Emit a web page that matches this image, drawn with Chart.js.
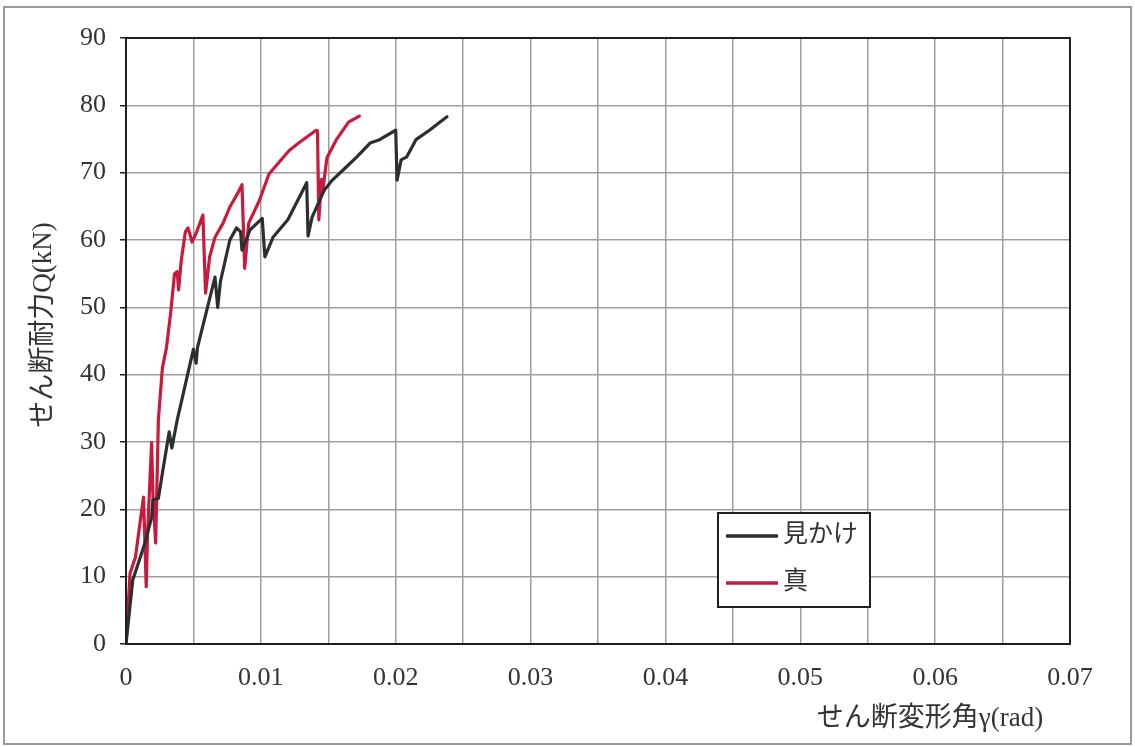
<!DOCTYPE html>
<html>
<head>
<meta charset="utf-8">
<script src="https://cdn.jsdelivr.net/npm/chart.js@4.4.1/dist/chart.umd.min.js"></script>
<style>
  html, body { margin: 0; padding: 0; background: #ffffff; }
  #wrap { position: relative; width: 1135px; height: 747px; }
</style>
</head>
<body>
<div id="wrap"><canvas id="c" width="1135" height="747"></canvas></div>
<script>
// 見かけ (apparent) shear angle vs. shear strength
const apparentGamma = [0, 0.0005, 0.0010, 0.0014, 0.0019, 0.0020, 0.0024, 0.0027, 0.0032, 0.0034,
  0.0038, 0.0050, 0.0052, 0.0053, 0.0066, 0.0068, 0.0070, 0.0077, 0.0082, 0.0085,
  0.0086, 0.0092, 0.0101, 0.0103, 0.0109, 0.0120, 0.0134, 0.0135, 0.0138, 0.0147,
  0.0153, 0.0161, 0.0171, 0.0181, 0.0188, 0.0200, 0.0201, 0.0204, 0.0208, 0.0215,
  0.0225, 0.0238];
const apparentQ = [0, 9.5, 12.5, 15.0, 18.8, 21.4, 21.6, 25.4, 31.5, 29.1,
  33.3, 43.8, 41.7, 44.0, 54.5, 50.0, 53.8, 60.0, 61.8, 61.2,
  58.5, 61.5, 63.2, 57.5, 60.4, 63.0, 68.5, 60.6, 63.4, 67.4,
  68.9, 70.4, 72.3, 74.4, 74.9, 76.3, 68.9, 71.9, 72.3, 74.9,
  76.3, 78.3];

// 真 (true) shear angle vs. shear strength
const trueGamma = [0, 0.0003, 0.0007, 0.0010, 0.0013, 0.0015, 0.0016, 0.0019, 0.0020, 0.0022,
  0.0024, 0.0027, 0.0030, 0.0033, 0.0036, 0.0038, 0.0039, 0.0041, 0.0044, 0.0046,
  0.0049, 0.0052, 0.0057, 0.0059, 0.0062, 0.0066, 0.0072, 0.0077, 0.0083, 0.0086,
  0.0088, 0.0091, 0.0099, 0.0106, 0.0121, 0.0128, 0.0141, 0.0142, 0.0143, 0.0145,
  0.0146, 0.0149, 0.0156, 0.0165, 0.0173];
const trueQ = [0, 10.5, 12.9, 17.4, 21.8, 8.5, 16.5, 29.9, 21.8, 15.0,
  33.3, 41.0, 44.0, 49.0, 55.0, 55.3, 52.6, 57.0, 61.2, 61.8,
  59.7, 61.0, 63.7, 52.1, 57.5, 60.4, 62.5, 64.9, 67.0, 68.2,
  55.8, 62.5, 65.9, 69.8, 73.3, 74.4, 76.3, 76.2, 63.0, 69.0,
  67.5, 72.2, 74.9, 77.5, 78.4];

const seriesLabels = ['見かけ', '真'];
const seriesColors = ['#2b2f30', '#c81a3c'];

const xMin = 0, xMax = 0.07, xStep = 0.005;
const yMin = 0, yMax = 90, yStep = 10;
const xTitle = 'せん断変形角γ(rad)';
const yTitle = 'せん断耐力Q(kN)';

const toPoints = (xs, ys) => xs.map((x, i) => ({ x: x, y: ys[i] }));

const FONT_FAMILY = '"Liberation Serif", "Noto Sans CJK JP", serif';

// frame, plot border, axis titles and boxed legend
const decorations = {
  id: 'decorations',
  afterDraw(chart) {
    const ctx = chart.ctx;
    const a = chart.chartArea;
    ctx.save();

    // outer frame of the figure
    ctx.strokeStyle = '#9a9a9a';
    ctx.lineWidth = 2;
    ctx.strokeRect(4, 7, 1127, 737);

    // plot border
    ctx.strokeStyle = '#1e1e1e';
    ctx.lineWidth = 2;
    ctx.strokeRect(a.left, a.top, a.right - a.left, a.bottom - a.top);

    // axis titles
    ctx.fillStyle = '#333333';
    ctx.font = '27px ' + FONT_FAMILY;
    ctx.textAlign = 'center';
    ctx.textBaseline = 'middle';
    ctx.fillText(xTitle, 930, 719);

    ctx.save();
    ctx.translate(44, 325);
    ctx.rotate(-Math.PI / 2);
    ctx.fillText(yTitle, 0, 0);
    ctx.restore();

    // legend box
    const lx = 718, ly = 513, lw = 152, lh = 94;
    ctx.fillStyle = '#ffffff';
    ctx.fillRect(lx, ly, lw, lh);
    ctx.strokeStyle = '#1e1e1e';
    ctx.lineWidth = 2;
    ctx.strokeRect(lx, ly, lw, lh);

    const rows = [536, 583];
    chart.data.datasets.forEach((ds, i) => {
      ctx.strokeStyle = ds.borderColor;
      ctx.lineWidth = 3.5;
      ctx.beginPath();
      ctx.moveTo(726, rows[i]);
      ctx.lineTo(778, rows[i]);
      ctx.stroke();
      ctx.fillStyle = '#333333';
      ctx.font = '25px ' + FONT_FAMILY;
      ctx.textAlign = 'left';
      ctx.textBaseline = 'middle';
      ctx.fillText(ds.label, 783, rows[i] - 1);
    });

    ctx.restore();
  }
};

new Chart(document.getElementById('c'), {
  type: 'scatter',
  data: {
    datasets: [
      {
        label: seriesLabels[0],
        data: toPoints(apparentGamma, apparentQ),
        showLine: true,
        borderColor: seriesColors[0],
        backgroundColor: seriesColors[0],
        borderWidth: 3.2,
        pointRadius: 0,
        tension: 0,
        borderJoinStyle: 'round',
        borderCapStyle: 'round'
      },
      {
        label: seriesLabels[1],
        data: toPoints(trueGamma, trueQ),
        showLine: true,
        borderColor: seriesColors[1],
        backgroundColor: seriesColors[1],
        borderWidth: 3.2,
        pointRadius: 0,
        tension: 0,
        borderJoinStyle: 'round',
        borderCapStyle: 'round'
      }
    ]
  },
  options: {
    responsive: false,
    animation: false,
    devicePixelRatio: 1,
    layout: { padding: { left: 0, top: 38, right: 65, bottom: 0 } },
    plugins: {
      legend: { display: false },
      tooltip: { enabled: false }
    },
    scales: {
      x: {
        type: 'linear',
        min: xMin,
        max: xMax,
        afterFit(scale) { scale.height = 103; },
        ticks: {
          stepSize: xStep,
          autoSkip: false,
          maxRotation: 0,
          padding: 19,
          color: '#333333',
          font: { family: FONT_FAMILY, size: 26 },
          callback(v) {
            const k = Math.round(v / xStep);
            if (k % 2 !== 0) return '';
            return k === 0 ? '0' : (k * xStep).toFixed(2);
          }
        },
        grid: {
          color: '#9f9f9f',
          lineWidth: 1.5,
          drawTicks: false
        },
        border: { display: true, color: '#1e1e1e', width: 2 }
      },
      y: {
        type: 'linear',
        min: yMin,
        max: yMax,
        afterFit(scale) { scale.width = 126; },
        ticks: {
          stepSize: yStep,
          padding: 14,
          color: '#333333',
          font: { family: FONT_FAMILY, size: 26 }
        },
        grid: {
          color: '#9f9f9f',
          lineWidth: 1.5,
          tickLength: 6,
          tickColor: '#1e1e1e'
        },
        border: { display: true, color: '#1e1e1e', width: 2 }
      }
    }
  },
  plugins: [decorations]
});
</script>
</body>
</html>
